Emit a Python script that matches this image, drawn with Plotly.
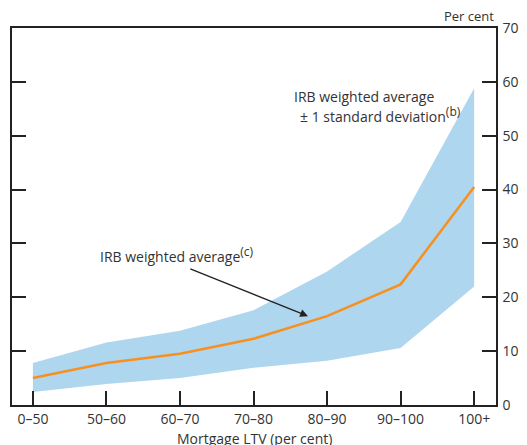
import plotly.graph_objects as go

categories = ["0–50", "50–60", "60–70", "70–80", "80–90", "90–100", "100+"]
average = [5.0, 7.8, 9.5, 12.3, 16.5, 22.4, 40.5]
upper = [7.8, 11.6, 13.8, 17.6, 24.8, 34.0, 58.8]
lower = [2.4, 3.9, 5.0, 6.9, 8.2, 10.6, 22.0]

x = list(range(len(categories)))
FONT = "Open Sans"
TXT = "#333333"
SUP = "<sup><span style='font-size:12px'>{}</span></sup>"

fig = go.Figure()
fig.add_trace(go.Scatter(x=x, y=upper, mode="lines", line=dict(width=0, color="#afd6ef"),
                         hoverinfo="skip", showlegend=False))
fig.add_trace(go.Scatter(x=x, y=lower, mode="lines", line=dict(width=0, color="#afd6ef"),
                         fill="tonexty", fillcolor="#afd6ef", hoverinfo="skip", showlegend=False))
fig.add_trace(go.Scatter(x=x, y=average, mode="lines", line=dict(width=2.5, color="#f7901e"),
                         showlegend=False))

# page body has an 8px default margin, so the figure is sized to fit the window
fig.update_layout(
    width=519, height=437,
    margin=dict(l=2, r=31, t=20, b=40),
    plot_bgcolor="white", paper_bgcolor="white",
    font=dict(family=FONT, size=14, color=TXT),
    xaxis=dict(
        range=[-0.284, 6.297], tickmode="array", tickvals=x, ticktext=categories,
        ticks="inside", ticklen=14, tickwidth=1.5, tickcolor="#222",
        showline=True, linecolor="#222", linewidth=1.5, mirror=True,
        showgrid=False, zeroline=False,
        tickfont=dict(size=14, color=TXT),
    ),
    yaxis=dict(
        range=[0, 70], side="right", tickvals=[0, 10, 20, 30, 40, 50, 60, 70],
        ticks="inside", ticklen=14, tickwidth=1.5, tickcolor="#222",
        showline=True, linecolor="#222", linewidth=1.5, mirror="ticks",
        showgrid=False, zeroline=False, ticklabelstandoff=2,
        tickfont=dict(size=14, color=TXT),
    ),
    annotations=[
        dict(xref="paper", yref="paper", x=1.0, y=1.0, xanchor="right", yanchor="bottom",
             text="Per cent", showarrow=False, font=dict(size=13, color=TXT), yshift=1),
        dict(xref="paper", yref="paper", x=0.5, y=0, xanchor="center", yanchor="top",
             text="Mortgage LTV (per cent)", showarrow=False, font=dict(size=14, color=TXT),
             yshift=-22),
        dict(xref="x", yref="y", x=4.5, y=57.3, xanchor="center", yanchor="middle",
             text="IRB weighted average", showarrow=False, font=dict(size=14, color=TXT)),
        dict(xref="x", yref="y", x=5.85, y=54.0, xanchor="right", yanchor="middle",
             text="± 1 standard deviation" + SUP.format("(b)"), showarrow=False,
             font=dict(size=14, color=TXT)),
        dict(xref="x", yref="y", x=1.96, y=28.0, xanchor="center", yanchor="middle",
             text="IRB weighted average" + SUP.format("(c)"), showarrow=False,
             font=dict(size=14, color=TXT)),
        dict(xref="x", yref="y", x=3.74, y=16.5, ax=2.12, ay=25.4, axref="x", ayref="y",
             text="", showarrow=True, arrowhead=2, arrowsize=1.2, arrowwidth=1.3, arrowcolor="#222"),
    ],
)

fig.write_html("out.html")
